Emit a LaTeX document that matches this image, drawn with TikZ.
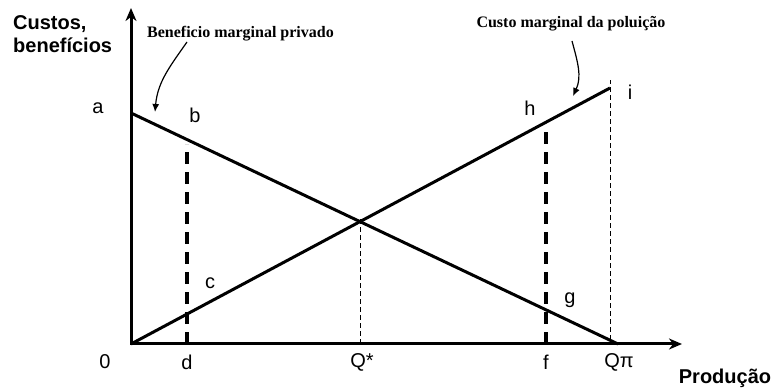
\documentclass[tikz,border=0pt]{standalone}
\usepackage{fontspec}
\setmainfont{Liberation Sans}
\newfontfamily\notefont{Liberation Serif}
\usetikzlibrary{arrows.meta}
\begin{document}
\begin{tikzpicture}[x=1pt,y=1pt,
  curve/.style={line width=3pt},
  bigdash/.style={line width=4pt,dash pattern=on 12pt off 8pt},
  thindash/.style={line width=0.8pt,dash pattern=on 5pt off 3pt},
  lbl/.style={font=\fontsize{20}{22}\selectfont,inner sep=0pt},
  note/.style={font=\notefont\bfseries\fontsize{16}{18}\selectfont,inner sep=0pt},
  pointer/.style={line width=1.2pt,-{Latex[length=8pt,width=7pt]}}]
\useasboundingbox (-131,-46) rectangle (642,344);
% points of the diagram
\coordinate (O) at (0,0);
\coordinate (ytop) at (0,336);
\coordinate (xend) at (551,0);
\coordinate (bmpA) at (0,231);
\coordinate (bmpQ) at (487,0);
\coordinate (cmpI) at (479,256);
\coordinate (star) at (229,122.4);
% dashed guides
\draw [thindash] (229,0) -- (229,127);
\draw [thindash] (479,4) -- (479,264);
\draw [bigdash] (56,0) -- (56,200);
\draw [bigdash] (415,0) -- (415,215);
% curves
\draw [curve] (bmpA) -- (bmpQ);
\draw [curve] (O) -- (cmpI);
% axes
\draw [line width=3pt,{Stealth[length=13pt,width=11pt,inset=4pt]}-{Stealth[length=13pt,width=11pt,inset=4pt]}] (ytop) -- (O) -- (xend);
% axis titles
\node [font=\bfseries\fontsize{20}{23}\selectfont,align=left,anchor=north west,inner sep=0pt] (ylab) at (-118,329) {Custos,\\benefícios};
\node [font=\bfseries\fontsize{20}{23}\selectfont,inner sep=0pt] (xlab) at (594,-34) {Produção};
% point labels
\node [lbl] (la) at (-33,236) {a};
\node [lbl] (lb) at (64,229) {b};
\node [lbl] (lc) at (79,61) {c};
\node [lbl] (lg) at (439,44) {g};
\node [lbl] (lh) at (399,236) {h};
\node [lbl] (li) at (499,252) {i};
\node [lbl] (l0) at (-26,-18) {0};
\node [lbl] (ld) at (56,-18) {d};
\node [lbl] (lq) at (231,-18) {Q*};
\node [lbl] (lf) at (415,-18) {f};
\node [lbl] (lpi) at (488,-18) {Qπ};
% curve names
\node [note,anchor=base] (bmp) at (109.5,306) {Beneficio marginal privado};
\node [note,anchor=base] (cmp) at (440,316) {Custo marginal da poluição};
\coordinate (bmpTip) at (24,232);
\coordinate (cmpTip) at (442,248);
\draw [pointer] (56,302) to[out=235,in=85] (bmpTip);
\draw [pointer] (441,303) to[out=-75,in=65] (cmpTip);
\end{tikzpicture}
\end{document}
